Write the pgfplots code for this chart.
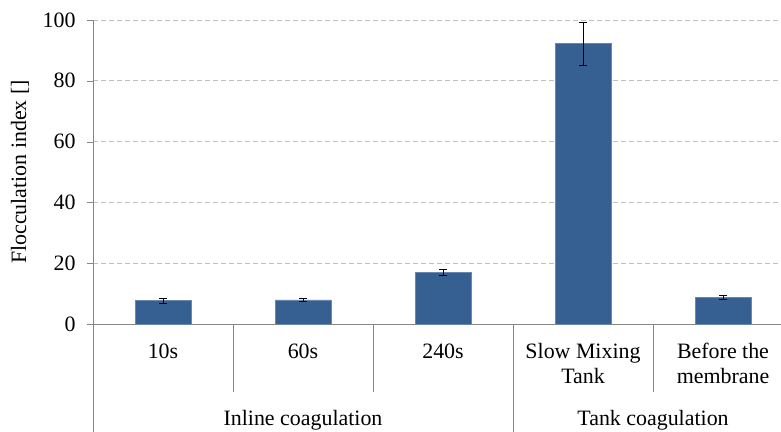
\documentclass[border=0pt]{standalone}
\usepackage{fontspec}
\setmainfont{Liberation Serif}
\usepackage{pgfplots}
\pgfplotsset{compat=1.18}
\definecolor{barblue}{RGB}{55,96,146}
\definecolor{axgray}{RGB}{134,134,134}
\definecolor{gridgray}{RGB}{192,192,192}
\begin{document}
\begin{tikzpicture}[font=\fontsize{22}{25}\selectfont]
\begin{axis}[
    name=ax,
    scale only axis,
    width=688bp, height=304bp,
    xmin=0, xmax=4.914,
    ymin=0, ymax=100,
    ytick={0,20,...,100},
    xtick={0.5,1.5,2.5,3.5,4.5},
    xticklabels={10s,60s,240s,{Slow Mixing\\Tank},{Before the\\membrane}},
    xticklabel style={align=center, anchor=north, yshift=-10bp},
    yticklabel style={xshift=-8bp},
    /pgf/number format/assume math mode=true,
    axis x line*=bottom, axis y line*=left,
    axis line style={axgray, -},
    xtick style={draw=none},
    ytick style={draw=axgray},
    tick align=outside,
    major tick length=6bp,
    ymajorgrids,
    grid style={gridgray, dash pattern=on 5bp off 3bp, line width=0.8bp},
    ylabel={Flocculation index []},
    ylabel style={at={(axis description cs:-0.106,0.5)}, anchor=center},
    clip=false,
]
\addplot[ybar, bar width=0.4, bar shift=0pt, fill=barblue, draw=barblue!75!white, line width=0.6bp,
    error bars/.cd, y dir=both, y explicit,
    error bar style={black, line width=0.7bp},
    error mark options={rotate=90, mark size=4bp, black, line width=0.7bp}]
coordinates {
    (0.5,7.7) +- (0,0.75)
    (1.5,7.9) +- (0,0.4)
    (2.5,17.0) +- (0,1.0)
    (3.5,92.2) +- (0,7.0)
    (4.5,8.65) +- (0,0.7)
};
% category separators of the two-level axis
\draw[axgray] (axis cs:0,0) -- ++(0,-108bp);
\draw[axgray] (axis cs:3,0) -- ++(0,-108bp);
\draw[axgray] (axis cs:1,0) -- ++(0,-68bp);
\draw[axgray] (axis cs:2,0) -- ++(0,-68bp);
\draw[axgray] (axis cs:4,0) -- ++(0,-68bp);
\node at ([yshift=-96bp]axis cs:1.5,0) {Inline coagulation};
\node at ([yshift=-96bp]axis cs:4,0) {Tank coagulation};
\end{axis}
\pgfresetboundingbox
\path ([shift={(-93bp,-108bp)}]ax.south west) rectangle ([shift={(0bp,20bp)}]ax.north east);
\end{tikzpicture}
\end{document}
